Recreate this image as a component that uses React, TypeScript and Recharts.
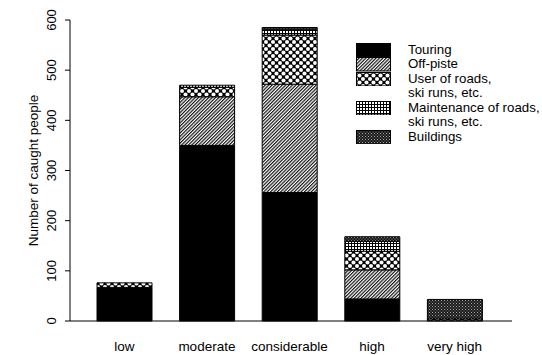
import { BarChart, Bar, XAxis, YAxis, Legend } from "recharts";

const FONT = '"Liberation Sans", Arial, sans-serif';

// danger level categories and caught people per activity
const LEVELS = ["low", "moderate", "considerable", "high", "very high"];
const TOURING = [67, 350, 256, 44, 0];
const OFF_PISTE = [0, 97, 216, 58, 0];
const ROAD_USERS = [9, 19, 98, 37, 4];
const MAINTENANCE = [0, 4, 10, 20, 0];
const BUILDINGS = [0, 0, 5, 9, 39];
const Y_TICKS = [0, 100, 200, 300, 400, 500, 600];

const SERIES = [
  { key: "touring", label: "Touring", values: TOURING, fill: "#000" },
  { key: "offPiste", label: "Off-piste", values: OFF_PISTE, fill: "url(#pat-diag)" },
  { key: "roadUsers", label: "User of roads,\nski runs, etc.", values: ROAD_USERS, fill: "url(#pat-dots)" },
  { key: "maintenance", label: "Maintenance of roads,\nski runs, etc.", values: MAINTENANCE, fill: "url(#pat-grid)" },
  { key: "buildings", label: "Buildings", values: BUILDINGS, fill: "url(#pat-dense)" },
];

const data = LEVELS.map((level, i) => {
  const row: Record<string, string | number> = { level };
  SERIES.forEach((s) => {
    row[s.key] = s.values[i];
  });
  return row;
});

const LINE_H = 14.45;

function PatternDefs() {
  return (
    <defs>
      <pattern id="pat-diag" width={2.4} height={2.4} patternUnits="userSpaceOnUse" patternTransform="rotate(45)">
        <rect width={2.4} height={2.4} fill="#fff" />
        <line x1={0.6} y1={0} x2={0.6} y2={2.4} stroke="#000" strokeWidth={1.1} />
      </pattern>
      <pattern id="pat-dots" width={7} height={7} patternUnits="userSpaceOnUse">
        <rect width={7} height={7} fill="#000" />
        <circle cx={0} cy={0} r={2.05} fill="#fff" />
        <circle cx={7} cy={0} r={2.05} fill="#fff" />
        <circle cx={0} cy={7} r={2.05} fill="#fff" />
        <circle cx={7} cy={7} r={2.05} fill="#fff" />
        <circle cx={3.5} cy={3.5} r={2.05} fill="#fff" />
      </pattern>
      <pattern id="pat-grid" width={3} height={3} patternUnits="userSpaceOnUse">
        <rect width={3} height={3} fill="#fff" />
        <line x1={0.5} y1={0} x2={0.5} y2={3} stroke="#000" strokeWidth={1} />
        <line x1={0} y1={0.5} x2={3} y2={0.5} stroke="#000" strokeWidth={1} />
      </pattern>
      <pattern id="pat-dense" width={3} height={3} patternUnits="userSpaceOnUse">
        <rect width={3} height={3} fill="#1a1a1a" />
        <rect x={0} y={0} width={1} height={1} fill="#aaa" />
        <rect x={1.5} y={1.5} width={1} height={1} fill="#888" />
      </pattern>
    </defs>
  );
}

function RotatedTick({ x, y, payload }: any) {
  return (
    <g transform={`translate(${x},${y})`}>
      <text transform="rotate(-90)" textAnchor="middle" fontSize={13} fill="#000" fontFamily={FONT}>
        {payload.value}
      </text>
    </g>
  );
}

function LegendBox() {
  return (
    <div style={{ fontFamily: FONT, fontSize: 13.3, lineHeight: `${LINE_H}px`, color: "#000" }}>
      {SERIES.map((s) => {
        const lines = s.label.split("\n");
        return (
          <div key={s.key} style={{ display: "flex", height: lines.length * LINE_H }}>
            <svg width={36} height={LINE_H} style={{ flex: "none", marginRight: 16 }}>
              <rect x={0.5} y={0.5} width={34} height={LINE_H - 1} fill={s.fill} stroke="#000" />
            </svg>
            <div style={{ whiteSpace: "nowrap" }}>
              {lines.map((l) => (
                <div key={l}>{l}</div>
              ))}
            </div>
          </div>
        );
      })}
    </div>
  );
}

export default function App() {
  return (
    <div style={{ position: "absolute", left: 0, top: 0, background: "#fff" }}>
      <BarChart width={542} height={355} data={data} margin={{ top: 20, right: 30, bottom: 0, left: 0 }}>
        <PatternDefs />
        <XAxis
          dataKey="level"
          height={34}
          tickLine={false}
          tickSize={0}
          tickMargin={20}
          axisLine={{ stroke: "#000" }}
          tick={{ fill: "#000", fontSize: 13.5, fontFamily: FONT }}
          padding={{ left: 13, right: 16 }}
          interval={0}
        />
        {/* blank axis to leave a gap between the value axis and the bars */}
        <YAxis yAxisId="gap" width={18} axisLine={false} tickLine={false} tick={false} />
        <YAxis
          yAxisId="count"
          width={52}
          domain={[0, 600]}
          ticks={Y_TICKS}
          tickSize={5}
          tickMargin={9}
          axisLine={{ stroke: "#000" }}
          tickLine={{ stroke: "#000" }}
          tick={<RotatedTick />}
          label={{
            value: "Number of caught people",
            angle: -90,
            position: "insideLeft",
            offset: 15,
            style: { textAnchor: "middle", fontSize: 13.5, fontFamily: FONT, fill: "#000" },
          }}
        />
        <Legend
          layout="vertical"
          align="center"
          verticalAlign="middle"
          wrapperStyle={{ left: 356, top: 43, width: 190 }}
          content={() => <LegendBox />}
        />
        {SERIES.map((s) => (
          <Bar
            key={s.key}
            dataKey={s.key}
            name={s.label}
            stackId="a"
            yAxisId="count"
            fill={s.fill}
            stroke="#000"
            strokeWidth={1}
            barSize={55}
            isAnimationActive={false}
          />
        ))}
      </BarChart>
    </div>
  );
}
